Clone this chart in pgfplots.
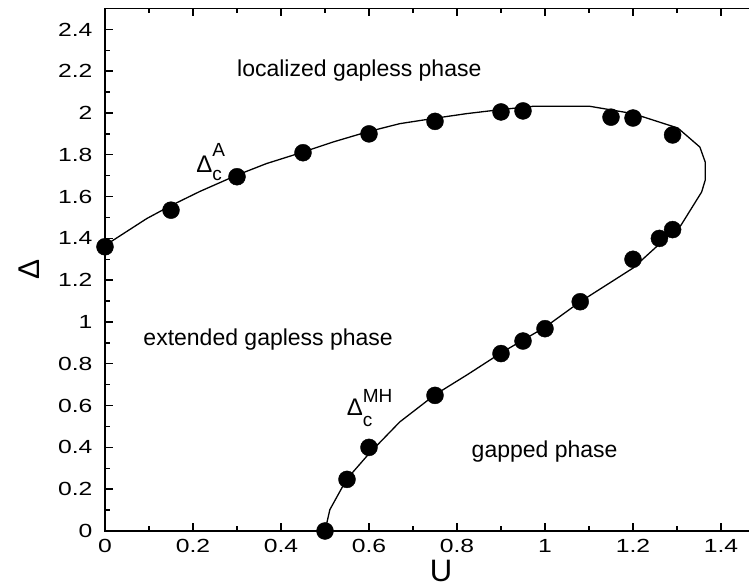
\documentclass[border=0pt]{standalone}
\usepackage{fontspec}
\setmainfont{Liberation Sans}
\newfontfamily\tickfont[FakeStretch=1.3]{Liberation Sans}
\usepackage{pgfplots}
\pgfplotsset{compat=1.18}

\begin{document}
\begin{tikzpicture}
\begin{axis}[
    scale only axis,
    width=660pt, height=522.5pt,
    xmin=0, xmax=1.5,
    ymin=0, ymax=2.5,
    xtick={0,0.2,0.4,0.6,0.8,1,1.2,1.4},
    ytick={0,0.2,0.4,0.6,0.8,1,1.2,1.4,1.6,1.8,2,2.2,2.4},
    minor tick num=1,
    tick align=inside,
    major tick length=8pt,
    minor tick length=5pt,
    every tick/.style={black, line width=1.4pt},
    axis line style={line width=1.8pt},
    /pgf/number format/assume math mode=true,
    tick label style={font=\tickfont\fontsize{19}{19}\selectfont},
    xticklabel style={yshift=-5pt},
    yticklabel style={xshift=-9pt},
    xlabel={U},
    xlabel style={font=\fontsize{31}{31}\selectfont, at={(axis description cs:0.509,-0.077)}, anchor=center},
    ylabel={Δ},
    ylabel style={font=\fontsize{30}{30}\selectfont, at={(axis description cs:-0.115,0.5)}, anchor=center},
]
% fitted phase boundary
\addplot[black, line width=1.3pt, mark=none] coordinates {
    (0,1.366) (0.095,1.495) (0.148,1.555) (0.216,1.625) (0.299,1.702)
    (0.367,1.758) (0.45,1.813) (0.518,1.861) (0.595,1.909) (0.67,1.949)
    (0.75,1.975) (0.822,1.997) (0.898,2.016) (0.973,2.032) (1.102,2.032)
    (1.2,1.997) (1.302,1.928) (1.352,1.837) (1.364,1.766) (1.364,1.678)
    (1.356,1.622) (1.309,1.463) (1.261,1.375) (1.2,1.258) (1.08,1.097)
    (1.0,0.975) (0.9,0.852) (0.825,0.75) (0.75,0.652) (0.67,0.522)
    (0.6,0.37) (0.549,0.247) (0.511,0.102) (0.5,0)
};
% Delta_c^A
\addplot[only marks, mark=*, mark size=8.5pt, black] coordinates {
    (0,1.36) (0.15,1.535) (0.3,1.695) (0.45,1.81) (0.6,1.90) (0.75,1.96)
    (0.9,2.005) (0.95,2.01) (1.15,1.98) (1.2,1.976) (1.29,1.895)
};
% Delta_c^MH
\addplot[only marks, mark=*, mark size=8.5pt, black] coordinates {
    (0.5,0) (0.55,0.247) (0.6,0.40) (0.75,0.649) (0.9,0.849) (0.95,0.909)
    (1.0,0.968) (1.08,1.097) (1.2,1.30) (1.26,1.40) (1.29,1.442)
};

\node[anchor=base west, inner sep=0, font=\fontsize{23}{23}\selectfont] at (axis cs:0.3,2.176) {localized gapless phase};
\node[anchor=base west, inner sep=0, font=\fontsize{23}{23}\selectfont] at (axis cs:0.087,0.889) {extended gapless phase};
\node[anchor=base west, inner sep=0, font=\fontsize{23}{23}\selectfont] at (axis cs:0.833,0.354) {gapped phase};

\node[anchor=base west, inner sep=0, font=\fontsize{24}{24}\selectfont] at (axis cs:0.207,1.716)
    {Δ\rlap{\raisebox{16pt}{\fontsize{19}{19}\selectfont A}}\raisebox{-8pt}{\fontsize{19}{19}\selectfont c}};
\node[anchor=base west, inner sep=0, font=\fontsize{24}{24}\selectfont] at (axis cs:0.549,0.554)
    {Δ\rlap{\raisebox{13pt}{\fontsize{19}{19}\selectfont MH}}\raisebox{-11pt}{\fontsize{19}{19}\selectfont c}};
\end{axis}
\pgfresetboundingbox
\path[use as bounding box] (-105pt,-57pt) rectangle (644pt,531pt);
\end{tikzpicture}
\end{document}
